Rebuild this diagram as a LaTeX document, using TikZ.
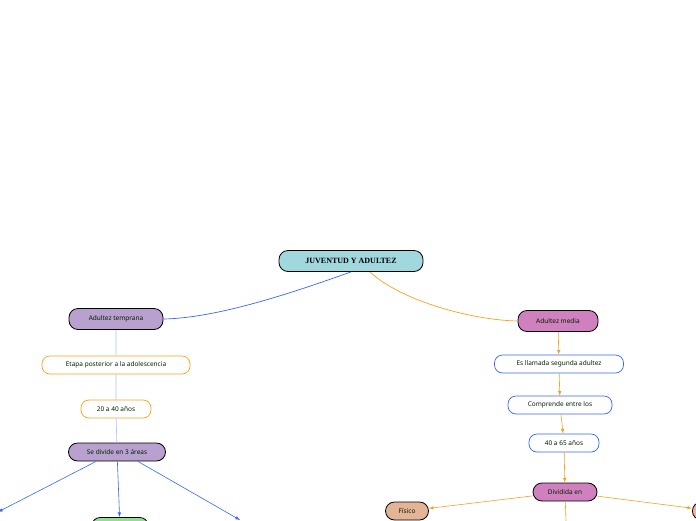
\documentclass[tikz,border=0pt]{standalone}
\usepackage{fontspec}
\setmainfont{Noto Sans}
\newfontfamily\titlefont{Liberation Serif}
\begin{document}
\begin{tikzpicture}[x=1pt,y=-1pt,
 base/.style={rounded corners=8pt,minimum height=18pt,inner sep=0pt,font=\fontsize{6.5}{7}\selectfont,text=black!70!green!40!black},
 main/.style={base,draw=black,line width=0.8pt,minimum height=21pt,rounded corners=9pt},
 sub/.style={base,line width=0.7pt},
 bl/.style={draw=blue!80!cyan!70!black,line width=0.6pt},
 lbl/.style={draw=blue!40!cyan!30!white,line width=0.6pt},
 org/.style={draw=orange!90!yellow,line width=0.6pt},
 ar/.style={-latex}]
\useasboundingbox (0,0) rectangle (696,520);
\definecolor{tc}{HTML}{A0D8DE}\definecolor{pc}{HTML}{B8A0CF}\definecolor{mc}{HTML}{D080BE}
\definecolor{fc}{HTML}{E4B496}\definecolor{gc}{HTML}{90E090}\definecolor{bc}{HTML}{3366FF}\definecolor{oc}{HTML}{F7A21B}
\node[main,fill=tc,minimum width=144pt,font=\titlefont\bfseries\fontsize{8}{9}\selectfont,text=black] (t) at (351,261) {JUVENTUD Y ADULTEZ};
\node[main,fill=pc,minimum width=94pt] (at) at (116,319) {Adultez temprana};
\node[sub,draw=oc,minimum width=148pt] (ep) at (116,365) {Etapa posterior a la adolescencia};
\node[sub,draw=oc,minimum width=70pt] (a20) at (116,409) {20 a 40 años};
\node[main,fill=pc,minimum width=97pt,minimum height=18pt] (sd) at (117,452) {Se divide en 3 áreas};
\node[main,fill=gc,minimum width=57pt,minimum height=18pt,anchor=north] (g) at (120,517) {};
\coordinate (l1) at (-2,512);
\coordinate (r1) at (240,520);
\node[main,fill=mc,minimum width=80pt] (am) at (558,321) {Adultez media};
\node[sub,draw=bc,minimum width=129pt] (es) at (559,364) {Es llamada segunda adultez};
\node[sub,draw=bc,minimum width=104pt] (co) at (560,405) {Comprende entre los};
\node[sub,draw=bc,minimum width=70pt] (a40) at (564,443) {40 a 65 años};
\node[main,fill=mc,minimum width=64pt,minimum height=18pt] (di) at (565,492) {Dividida en};
\node[main,fill=fc,minimum width=43pt,minimum height=18pt] (fi) at (407,511) {Físico};
\node[main,fill=fc!70!red!60!white,minimum width=43pt,minimum height=18pt,anchor=west] (rt) at (692,511) {};
\coordinate (d1) at (566,522);
\draw[draw=bc,line width=0.7pt] (t.south) .. controls (300,290) and (220,318) .. (at.east);
\draw[draw=oc,line width=0.7pt] (370,272) .. controls (400,300) and (470,320) .. (am.west);
\draw[lbl,draw=bc!40!white] (at) -- (ep) -- (a20) -- (sd);
\draw[bl,draw=bc,ar] (sd.south west)++(28,0) -- (l1);
\draw[bl,draw=bc,ar] (sd) -- (g);
\draw[bl,draw=bc,ar] (sd.south east)++(-28,0) -- (r1);
\draw[org,draw=oc,ar] (am) -- (es);
\draw[org,draw=oc,ar] (es) -- (co);
\draw[org,draw=oc,ar] (co) -- (a40);
\draw[org,draw=oc,ar] (a40) -- (di);
\draw[org,draw=oc,ar] (di) -- (fi);
\draw[org,draw=oc,ar] (di) -- (rt);
\draw[org,draw=oc] (di) -- (d1);
\end{tikzpicture}
\end{document}
